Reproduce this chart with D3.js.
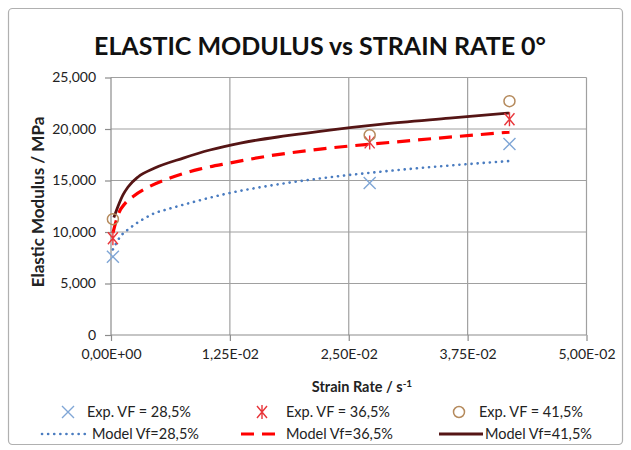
<!DOCTYPE html>
<html>
<head>
<meta charset="utf-8">
<script src="https://cdn.jsdelivr.net/npm/d3@7"></script>
<style>
  body { margin: 0; background: #fff; }
  text { font-family: Lato, "Open Sans", sans-serif; }
</style>
</head>
<body>
<script>
// experimental points [strain rate, modulus]
var exp285 = [[0.0002, 7600], [0.0272, 14750], [0.0419, 18550]];
var exp365 = [[0.0002, 9400], [0.0272, 18700], [0.0419, 20950]];
var exp415 = [[0.0002, 11250], [0.0272, 19400], [0.0419, 22700]];

// model curves
var model285 = [[0.0002, 8300], [0.0009, 9450], [0.002, 10390], [0.0033, 11200], [0.0045, 11800],
  [0.0059, 12200], [0.0086, 12900], [0.0125, 13790], [0.0167, 14500], [0.022, 15200], [0.03, 16000],
  [0.0419, 16890]];
var model365 = [[0.0002, 9900], [0.0008, 11800], [0.0015, 12800], [0.0024, 13500], [0.0038, 14300],
  [0.0062, 15240], [0.0093, 16100], [0.0125, 16700], [0.0167, 17400], [0.022, 18050], [0.03, 18750],
  [0.0419, 19700]];
var model415 = [[0.0003, 11400], [0.00074, 12500], [0.00126, 13600], [0.00179, 14370], [0.00284, 15340],
  [0.0046, 16210], [0.0076, 17180], [0.0104, 17960], [0.0136, 18640], [0.0185, 19350], [0.023, 19900],
  [0.0283, 20450], [0.0356, 21050], [0.0419, 21550]];

var xTicks = [0, 0.0125, 0.025, 0.0375, 0.05];
var yTicks = [0, 5000, 10000, 15000, 20000, 25000];

var title = "ELASTIC MODULUS vs STRAIN RATE 0°";
var legendLabels = ["Exp. VF = 28,5%", "Exp. VF = 36,5%", "Exp. VF = 41,5%",
  "Model Vf=28,5%", "Model Vf=36,5%", "Model Vf=41,5%"];

var width = 631, height = 450;
var padLeft = 111, padRight = 586.5, padTop = 77.5, padBottom = 335;

var svg = d3.select("body").append("svg")
  .attr("width", width)
  .attr("height", height);

// chart frame
svg.append("rect")
  .attr("x", 8.5).attr("y", 8.5)
  .attr("width", 614).attr("height", 436)
  .attr("rx", 4)
  .attr("fill", "#fff")
  .attr("stroke", "#b0b0b0")
  .attr("stroke-width", 1.2);

var xScale = d3.scaleLinear().domain([0, 0.05]).range([padLeft, padRight]);
var yScale = d3.scaleLinear().domain([0, 25000]).range([padBottom, padTop]);

// grid
svg.append("g").selectAll("line")
  .data(yTicks.slice(1))
  .enter().append("line")
  .attr("x1", padLeft).attr("x2", padRight)
  .attr("y1", function(d) { return yScale(d); })
  .attr("y2", function(d) { return yScale(d); })
  .attr("stroke", "#a0a0a0").attr("stroke-width", 1.2);

svg.append("g").selectAll("line")
  .data(xTicks.slice(1))
  .enter().append("line")
  .attr("y1", padTop).attr("y2", padBottom)
  .attr("x1", function(d) { return xScale(d); })
  .attr("x2", function(d) { return xScale(d); })
  .attr("stroke", "#a0a0a0").attr("stroke-width", 1.2);

function fmtX(d) {
  var s = d.toExponential(2).replace(".", ",");
  var parts = s.split("e");
  var e = parseInt(parts[1]);
  return parts[0] + "E" + (e < 0 ? "-" : "+") + String(Math.abs(e)).padStart(2, "0");
}

var xAxis = d3.axisBottom(xScale).tickValues(xTicks).tickFormat(fmtX).tickSize(6).tickPadding(8);
var yAxis = d3.axisLeft(yScale).tickValues(yTicks).tickFormat(d3.format(",")).tickSize(6).tickPadding(9);

var gx = svg.append("g")
  .attr("transform", `translate(0, ${padBottom})`)
  .call(xAxis);
var gy = svg.append("g")
  .attr("transform", `translate(${padLeft}, 0)`)
  .call(yAxis);

[gx, gy].forEach(function(g) {
  g.select(".domain").attr("stroke", "#8c8c8c").attr("stroke-width", 1.2);
  g.selectAll(".tick line").attr("stroke", "#8c8c8c").attr("stroke-width", 1.2);
  g.selectAll(".tick text").attr("fill", "#222").style("font-size", "14px")
    .style("font-family", "Lato, sans-serif");
});
gx.select(".domain").attr("d", `M${padLeft},0H${padRight}`);
gy.select(".domain").attr("d", `M0,${padBottom}V${padTop}`);

// titles
svg.append("text")
  .attr("x", 320).attr("y", 55)
  .attr("text-anchor", "middle")
  .style("font-size", "25px").style("font-weight", "bold")
  .attr("fill", "#111")
  .text(title);

svg.append("text")
  .attr("x", 362).attr("y", 392)
  .attr("text-anchor", "middle")
  .style("font-size", "14.5px").style("font-weight", "bold")
  .attr("fill", "#222")
  .text("Strain Rate / s")
  .append("tspan").attr("dy", -5).style("font-size", "10px").text("-1");

svg.append("text")
  .attr("transform", "translate(44, 202) rotate(-90)")
  .attr("text-anchor", "middle")
  .style("font-size", "17px").style("font-weight", "bold")
  .attr("fill", "#222")
  .text("Elastic Modulus / MPa");

// model lines
var line = d3.line()
  .x(function(d) { return xScale(d[0]); })
  .y(function(d) { return yScale(d[1]); })
  .curve(d3.curveMonotoneX);

var models = [
  {data: model285, color: "#4a7cc0", width: 2.6, dash: "0.1 6", cap: "round"},
  {data: model365, color: "#ff0000", width: 3.2, dash: "13 8", cap: "butt"},
  {data: model415, color: "#551515", width: 2.8, dash: null, cap: "butt"}
];

svg.append("g").selectAll("path")
  .data(models)
  .enter().append("path")
  .attr("d", function(d) { return line(d.data); })
  .attr("fill", "none")
  .attr("stroke", function(d) { return d.color; })
  .attr("stroke-width", function(d) { return d.width; })
  .attr("stroke-dasharray", function(d) { return d.dash; })
  .attr("stroke-linecap", function(d) { return d.cap; });

// markers
function drawCross(g, x, y, color) {
  g.append("path")
    .attr("d", `M${x - 6},${y - 6}L${x + 6},${y + 6}M${x - 6},${y + 6}L${x + 6},${y - 6}`)
    .attr("stroke", color).attr("stroke-width", 1.4).attr("fill", "none");
}
function drawStar(g, x, y, color) {
  g.append("path")
    .attr("d", `M${x - 5},${y - 6}L${x + 5},${y + 6}M${x - 5},${y + 6}L${x + 5},${y - 6}M${x},${y - 7}V${y + 7}`)
    .attr("stroke", color).attr("stroke-width", 1.4).attr("fill", "none");
}
function drawCircle(g, x, y, color) {
  g.append("circle")
    .attr("cx", x).attr("cy", y).attr("r", 5.5)
    .attr("stroke", color).attr("stroke-width", 1.5).attr("fill", "none");
}

var gm = svg.append("g");
exp285.forEach(function(d) { drawCross(gm, xScale(d[0]), yScale(d[1]), "#7fa6d6"); });
exp365.forEach(function(d) { drawStar(gm, xScale(d[0]), yScale(d[1]), "#e8353a"); });
exp415.forEach(function(d) { drawCircle(gm, xScale(d[0]), yScale(d[1]), "#b58a5c"); });

// legend
var lg = svg.append("g");
var colX = [68, 262, 459];
var textX = [87, 286, 479, 92, 286, 485];
var row1 = 412, row2 = 434;

drawCross(lg, colX[0], row1, "#7fa6d6");
drawStar(lg, colX[1], row1, "#e8353a");
drawCircle(lg, colX[2], row1, "#b58a5c");

var legLines = [[42, 89], [241, 282], [439, 483]];
models.forEach(function(m, i) {
  lg.append("line")
    .attr("x1", legLines[i][0]).attr("x2", legLines[i][1])
    .attr("y1", row2).attr("y2", row2)
    .attr("stroke", m.color).attr("stroke-width", m.width)
    .attr("stroke-dasharray", m.dash).attr("stroke-linecap", m.cap);
});

lg.selectAll("text")
  .data(legendLabels)
  .enter().append("text")
  .attr("x", function(d, i) { return textX[i]; })
  .attr("y", function(d, i) { return (i < 3 ? row1 : row2) + 5; })
  .style("font-size", "14.5px")
  .attr("fill", "#222")
  .text(function(d) { return d; });
</script>
</body>
</html>
